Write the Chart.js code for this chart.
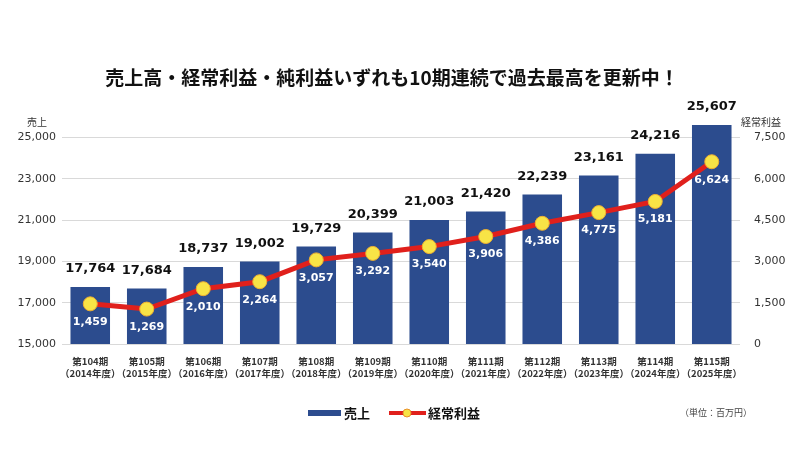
<!DOCTYPE html>
<html>
<head>
<meta charset="utf-8">
<script src="https://cdn.jsdelivr.net/npm/chart.js@4"></script>
<style>
  html, body { margin: 0; padding: 0; background: #fff; }
  #wrap { width: 800px; height: 450px; }
</style>
</head>
<body>
<div id="wrap"><canvas id="chart" width="800" height="450"></canvas></div>
<script>
var periods = ['第104期', '第105期', '第106期', '第107期', '第108期', '第109期',
               '第110期', '第111期', '第112期', '第113期', '第114期', '第115期'];
var years = ['（2014年度）', '（2015年度）', '（2016年度）', '（2017年度）', '（2018年度）', '（2019年度）',
             '（2020年度）', '（2021年度）', '（2022年度）', '（2023年度）', '（2024年度）', '（2025年度）'];
var sales = [17764, 17684, 18737, 19002, 19729, 20399, 21003, 21420, 22239, 23161, 24216, 25607];
var ordinaryProfit = [1459, 1269, 2010, 2264, 3057, 3292, 3540, 3906, 4386, 4775, 5181, 6624];
var salesTicks = [15000, 17000, 19000, 21000, 23000, 25000];
var profitTicks = [0, 1500, 3000, 4500, 6000, 7500];

var titleText = '売上高・経常利益・純利益いずれも10期連続で過去最高を更新中！';
var numFont = '"DejaVu Sans", Verdana, sans-serif';
var jpFont = '"Noto Sans CJK JP", "Noto Sans", sans-serif';

var BLUE = '#2c4c8e';
var RED = '#e0201c';
var YELLOW = '#f8e446';

function fmt(v) { return v.toLocaleString('en-US'); }

// ラベル・凡例・タイトルを描く
var decorPlugin = {
    id: 'decor',
    afterDatasetsDraw: function (chart) {
        var ctx = chart.ctx;
        ctx.save();
        // 棒の上の数値
        var barMeta = chart.getDatasetMeta(1);
        ctx.textAlign = 'center';
        ctx.textBaseline = 'middle';
        ctx.fillStyle = '#111';
        ctx.font = 'bold 13px ' + numFont;
        barMeta.data.forEach(function (bar, i) {
            ctx.fillText(fmt(sales[i]), bar.x, bar.y - 18);
        });
        // 折れ線の下の数値
        var lineMeta = chart.getDatasetMeta(0);
        ctx.fillStyle = '#fff';
        ctx.font = 'bold 11px ' + numFont;
        lineMeta.data.forEach(function (pt, i) {
            ctx.fillText(fmt(ordinaryProfit[i]), pt.x, pt.y + 18);
        });
        ctx.restore();
    },
    afterDraw: function (chart) {
        var ctx = chart.ctx;
        ctx.save();
        // タイトル
        ctx.fillStyle = '#111';
        ctx.textAlign = 'center';
        ctx.textBaseline = 'middle';
        ctx.font = 'bold 19px ' + jpFont;
        ctx.fillText(titleText, 392, 78);

        // 軸タイトル
        ctx.font = '10px ' + jpFont;
        ctx.fillStyle = '#333';
        ctx.textAlign = 'left';
        ctx.fillText('売上', 27, 122);
        ctx.fillText('経常利益', 741, 122);

        // 凡例
        var ly = 413;
        ctx.fillStyle = BLUE;
        ctx.fillRect(308, ly - 3, 33, 6);
        ctx.fillStyle = '#111';
        ctx.font = 'bold 13px ' + jpFont;
        ctx.fillText('売上', 344, ly);

        ctx.strokeStyle = RED;
        ctx.lineWidth = 4;
        ctx.beginPath();
        ctx.moveTo(389, ly);
        ctx.lineTo(426, ly);
        ctx.stroke();
        ctx.beginPath();
        ctx.arc(407, ly, 4, 0, Math.PI * 2);
        ctx.fillStyle = YELLOW;
        ctx.fill();
        ctx.lineWidth = 1;
        ctx.strokeStyle = '#e8902a';
        ctx.stroke();
        ctx.fillStyle = '#111';
        ctx.fillText('経常利益', 428, ly);

        ctx.font = '9px ' + jpFont;
        ctx.fillStyle = '#444';
        ctx.textAlign = 'right';
        ctx.fillText('（単位：百万円）', 752, ly);
        ctx.restore();
    }
};

var ctx = document.getElementById('chart').getContext('2d');
var chart = new Chart(ctx, {
    type: 'bar',
    data: {
        labels: periods.map(function (p, i) { return [p, years[i]]; }),
        datasets: [{
            type: 'line',
            label: '経常利益',
            data: ordinaryProfit,
            yAxisID: 'y1',
            borderColor: RED,
            borderWidth: 5,
            pointRadius: 7,
            pointBackgroundColor: YELLOW,
            pointBorderColor: '#f0b030',
            pointBorderWidth: 1,
            tension: 0,
            order: 0
        }, {
            type: 'bar',
            label: '売上',
            data: sales,
            yAxisID: 'y',
            backgroundColor: BLUE,
            barPercentage: 0.7,
            categoryPercentage: 1.0,
            order: 1
        }]
    },
    options: {
        responsive: false,
        animation: false,
        devicePixelRatio: 1,
        layout: { padding: { top: 117, left: 0, right: 0, bottom: 0 } },
        plugins: {
            legend: { display: false },
            title: { display: false },
            tooltip: { enabled: false }
        },
        scales: {
            x: {
                grid: { display: false },
                border: { display: false },
                ticks: {
                    color: '#333',
                    font: { family: jpFont, size: 9.5, weight: 'bold' },
                    padding: 4,
                    maxRotation: 0,
                    autoSkip: false
                },
                afterFit: function (scale) { scale.height = 106; }
            },
            y: {
                position: 'left',
                min: 15000,
                max: 26000,
                afterBuildTicks: function (scale) {
                    scale.ticks = salesTicks.map(function (v) { return { value: v }; });
                },
                grid: { color: '#d9d9d9', drawTicks: false },
                border: { display: false },
                ticks: {
                    color: '#333',
                    padding: 6,
                    font: { family: numFont, size: 11 },
                    callback: function (v) { return fmt(v); }
                },
                afterFit: function (scale) { scale.width = 62; }
            },
            y1: {
                position: 'right',
                min: 0,
                max: 8250,
                afterBuildTicks: function (scale) {
                    scale.ticks = profitTicks.map(function (v) { return { value: v }; });
                },
                grid: { display: false },
                border: { display: false },
                ticks: {
                    color: '#333',
                    padding: 6,
                    font: { family: numFont, size: 11 },
                    callback: function (v) { return fmt(v); }
                },
                afterFit: function (scale) { scale.width = 60; }
            }
        }
    },
    plugins: [decorPlugin]
});
</script>
</body>
</html>
